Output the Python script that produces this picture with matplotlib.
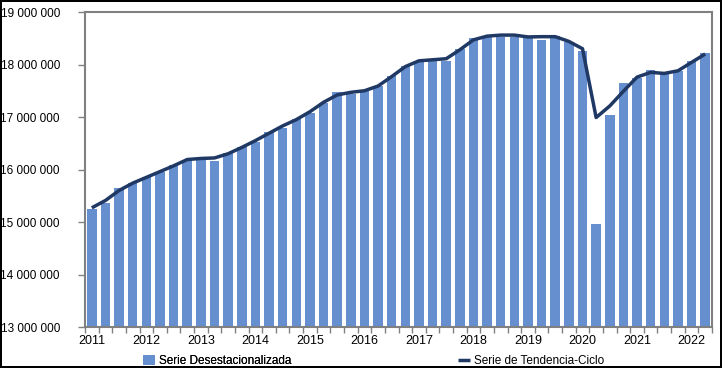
import matplotlib
matplotlib.use("Agg")
import matplotlib.pyplot as plt
from matplotlib.ticker import FixedLocator, FuncFormatter
import numpy as np

plt.rcParams['font.family'] = ['Liberation Sans', 'DejaVu Sans']

years = [str(y) for y in range(2011, 2023)]

desest = [15.25, 15.36, 15.64, 15.74, 15.85, 15.95, 16.08, 16.19,
          16.21, 16.17, 16.31, 16.42, 16.52, 16.72, 16.80, 16.97,
          17.07, 17.26, 17.48, 17.44, 17.50, 17.60, 17.79, 17.97,
          18.055, 18.07, 18.07, 18.30, 18.50, 18.52, 18.53, 18.53,
          18.50, 18.47, 18.55, 18.42, 18.26, 14.97, 17.03, 17.64,
          17.74, 17.90, 17.82, 17.87, 18.07, 18.22]

tendencia = [15.27, 15.41, 15.60, 15.74, 15.85, 15.96, 16.07, 16.19,
             16.21, 16.22, 16.30, 16.42, 16.55, 16.69, 16.83, 16.95,
             17.10, 17.28, 17.42, 17.47, 17.50, 17.59, 17.77, 17.96,
             18.07, 18.09, 18.11, 18.28, 18.47, 18.54, 18.56, 18.56,
             18.525, 18.53, 18.53, 18.44, 18.30, 16.99, 17.21, 17.49,
             17.76, 17.85, 17.83, 17.88, 18.04, 18.20]

desest_v = np.array(desest) * 1e6
tend_v = np.array(tendencia) * 1e6
x = np.arange(len(desest_v))

fig = plt.figure(figsize=(7.22, 3.68), dpi=100)
fig.patch.set_edgecolor('black')
fig.patch.set_linewidth(1.5)
ax = fig.add_axes([85/722, 1 - 327/368, (712-85)/722, (327-12)/368])

bar_color = '#668fd0'
line_color = '#1f3864'
bars = ax.bar(x, desest_v, width=0.7, color=bar_color, zorder=2)
line, = ax.plot(x, tend_v, color=line_color, lw=2.5, zorder=3,
                solid_capstyle='butt')

ax.set_xlim(-0.5, len(x) - 0.5)
ax.set_ylim(13e6, 19e6)
ax.set_yticks(np.arange(13e6, 19e6 + 1, 1e6))
ax.yaxis.set_major_formatter(FuncFormatter(lambda v, p: f"{int(v):,}".replace(",", " ")))

ax.set_xticks(np.arange(0, len(x), 4))
ax.set_xticklabels(years)
ax.xaxis.set_minor_locator(FixedLocator(np.arange(-0.5, len(x) + 0.5, 1)))
ax.tick_params(axis='x', which='major', length=0, pad=6, labelsize=9)
ax.tick_params(axis='x', which='minor', length=4, color='#808080', width=1)
ax.tick_params(axis='y', which='major', length=5, color='#808080', width=1,
               labelsize=8.5, pad=13)

for s in ax.spines.values():
    s.set_color('#808080')
    s.set_linewidth(1.5)

fs = 8.5
leg1 = fig.legend(handles=[bars], labels=['Serie Desestacionalizada'],
                  loc='center left', bbox_to_anchor=(143/722, 1 - 361/368),
                  frameon=False, fontsize=fs, handlelength=1.0, handleheight=1.0,
                  handletextpad=0.35, borderpad=0, borderaxespad=0)
fig.add_artist(leg1)
leg2 = fig.legend(handles=[line], labels=['Serie de Tendencia-Ciclo'],
                  loc='center left', bbox_to_anchor=(458/722, 1 - 361/368),
                  frameon=False, fontsize=fs, handlelength=1.0,
                  handletextpad=0.35, borderpad=0, borderaxespad=0)

fig.savefig('out.png', dpi=100)
